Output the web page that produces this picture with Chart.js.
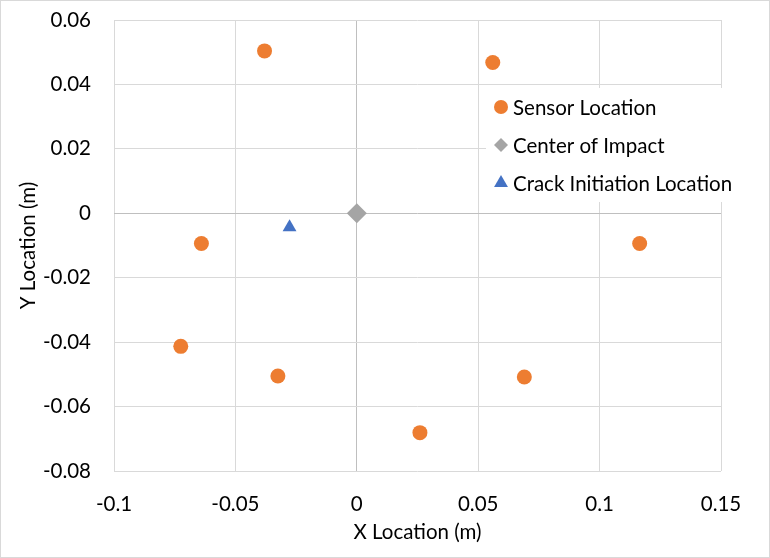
<!DOCTYPE html>
<html>
<head>
<meta charset="utf-8">
<script src="https://cdn.jsdelivr.net/npm/chart.js@4"></script>
<style>
  html, body { margin: 0; padding: 0; background: #fff; }
  #wrap { width: 770px; height: 558px; position: relative; }
</style>
</head>
<body>
<div id="wrap"><canvas id="graph" width="770" height="558"></canvas></div>
<script>
// data
const sensorX = [-0.038, 0.056, -0.064, 0.1165, -0.0725, -0.0325, 0.069, 0.026];
const sensorY = [0.0504, 0.0468, -0.0094, -0.0094, -0.0413, -0.0505, -0.0508, -0.0681];
const impactX = [0];
const impactY = [0];
const crackX = [-0.0277];
const crackY = [-0.0043];

const seriesNames = ['Sensor Location', 'Center of Impact', 'Crack Initiation Location'];
const xTicks = [-0.1, -0.05, 0, 0.05, 0.1, 0.15];
const yTicks = [-0.08, -0.06, -0.04, -0.02, 0, 0.02, 0.04, 0.06];

const FONT = 'Lato';
const FSIZE = 20.5;
const pts = (xs, ys) => xs.map((x, i) => ({ x: x, y: ys[i] }));
const fmt = v => String(Number(v.toFixed(4)));

const data = {
  datasets: [{
    label: seriesNames[0],
    data: pts(sensorX, sensorY),
    pointStyle: 'circle',
    pointRadius: 7.5,
    backgroundColor: '#ED7D31',
    borderColor: '#ED7D31',
    borderWidth: 0,
    legendRadius: 7
  }, {
    label: seriesNames[1],
    data: pts(impactX, impactY),
    pointStyle: 'rectRot',
    pointRadius: 10,
    backgroundColor: '#A5A5A5',
    borderColor: '#A5A5A5',
    borderWidth: 0,
    legendRadius: 7
  }, {
    label: seriesNames[2],
    data: pts(crackX, crackY),
    pointStyle: 'triangle',
    pointRadius: 8,
    backgroundColor: '#4472C4',
    borderColor: '#4472C4',
    borderWidth: 0,
    legendRadius: 8
  }]
};

// legend drawn inside the plot area, on a white box
const insideLegend = {
  id: 'insideLegend',
  afterDatasetsDraw(chart) {
    const ctx = chart.ctx;
    ctx.save();
    ctx.fillStyle = '#fff';
    ctx.fillRect(486, 88, 250, 114);
    ctx.font = FSIZE + 'px ' + FONT;
    ctx.textBaseline = 'middle';
    ctx.textAlign = 'left';
    chart.data.datasets.forEach((ds, i) => {
      const y = 107 + i * 38;
      ctx.fillStyle = ds.backgroundColor;
      ctx.strokeStyle = ds.borderColor;
      ctx.lineWidth = 0;
      Chart.helpers.drawPoint(ctx, { pointStyle: ds.pointStyle, radius: ds.legendRadius, borderWidth: 0 }, 501, y);
      ctx.fillStyle = '#000';
      ctx.fillText(ds.label, 513, y + 1);
    });
    ctx.restore();
  },
  afterDraw(chart) {
    const ctx = chart.ctx;
    ctx.save();
    ctx.strokeStyle = '#d9d9d9';
    ctx.lineWidth = 1;
    ctx.strokeRect(0.5, 0.5, chart.width - 1, chart.height - 1);
    ctx.restore();
  }
};

const gridColor = c => (c.tick && c.tick.value === 0) ? '#bfbfbf' : '#d9d9d9';
const tickFont = { family: FONT, size: FSIZE };

const config = {
  type: 'scatter',
  data: data,
  options: {
    responsive: false,
    animation: false,
    layout: { padding: { left: 0, top: 20, right: 49, bottom: 0 } },
    plugins: { legend: { display: false }, tooltip: { enabled: false } },
    scales: {
      x: {
        type: 'linear',
        min: -0.1, max: 0.15,
        afterBuildTicks: s => { s.ticks = xTicks.map(v => ({ value: v })); },
        afterFit: s => { s.height = 87; s.paddingLeft = 0; s.paddingRight = 0; },
        grid: { color: gridColor, drawTicks: false },
        border: { display: false },
        ticks: { padding: 21, color: '#000', font: tickFont, callback: v => fmt(v), maxRotation: 0 },
        title: { display: true, text: 'X Location (m)', color: '#000', font: tickFont, padding: { top: 0, bottom: 13 } }
      },
      y: {
        type: 'linear',
        min: -0.08, max: 0.06,
        afterBuildTicks: s => { s.ticks = yTicks.map(v => ({ value: v })); },
        afterFit: s => { s.width = 114; s.paddingTop = 0; s.paddingBottom = 0; },
        grid: { color: gridColor, drawTicks: false },
        border: { display: false },
        ticks: { padding: 23, color: '#000', font: tickFont, callback: v => fmt(v) },
        title: { display: true, text: 'Y Location (m)', color: '#000', font: tickFont, padding: { top: 16, bottom: 0 } }
      }
    }
  },
  plugins: [insideLegend]
};

const graph = new Chart(document.getElementById('graph'), config);
</script>
</body>
</html>
